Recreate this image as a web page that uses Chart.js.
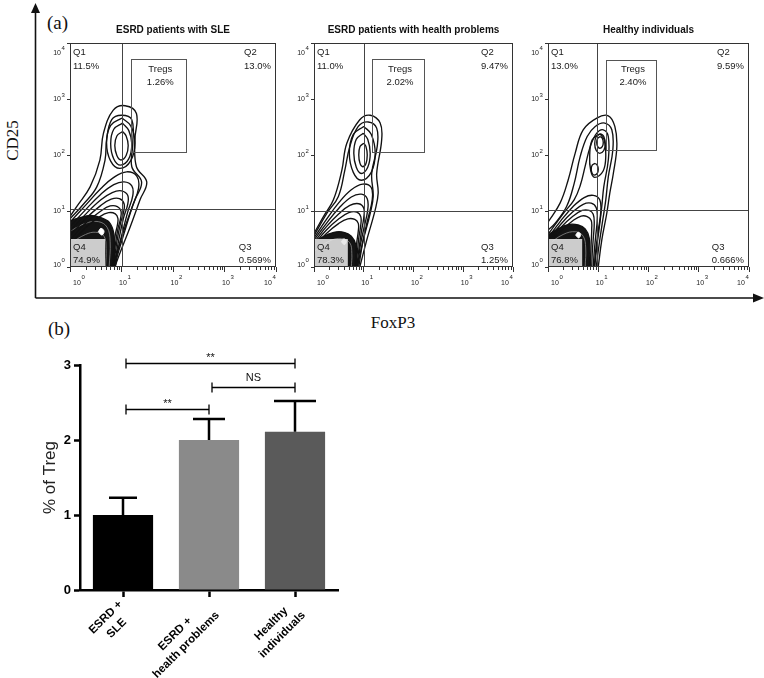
<!DOCTYPE html>
<html><head><meta charset="utf-8">
<script src="https://cdn.jsdelivr.net/npm/chart.js@4.4.1/dist/chart.umd.min.js"></script>
<style>
html,body{margin:0;padding:0;background:#fff}
body{width:764px;height:678px;position:relative;overflow:hidden}
canvas{position:absolute;display:block}
.lbl{position:absolute;font-family:"Liberation Serif","Times New Roman",serif;color:#111;white-space:nowrap;line-height:1}
</style></head><body>
<svg width="764" height="678" style="position:absolute;left:0;top:0">
 <path d="M35.5 298 V11 M35.5 298 H755" stroke="#111" stroke-width="1.6" fill="none"/>
 <polygon points="31,13 35.5,3 40,13" fill="#111"/>
 <polygon points="753,293.5 764,298 753,302.5" fill="#111"/>
</svg>
<div class="lbl" style="left:47px;top:13px;font-size:19px">(a)</div>
<div class="lbl" style="left:-10px;top:132px;width:44px;text-align:center;font-size:17px;transform:rotate(-90deg)">CD25</div>
<div class="lbl" style="left:358px;top:314px;width:70px;text-align:center;font-size:17px">FoxP3</div>
<div class="lbl" style="left:48px;top:319px;font-size:19px">(b)</div>

<canvas id="p1" width="246" height="269" style="left:38px;top:20px"></canvas>
<canvas id="p2" width="239" height="269" style="left:282px;top:20px"></canvas>
<canvas id="p3" width="241" height="269" style="left:516px;top:20px"></canvas>
<canvas id="bars" width="345" height="343" style="left:0;top:335px"></canvas>

<script>
// ---------- panel (a) data (log10 decades) ----------
const flowTicks = [0, 1, 2, 3, 4];
const panelTitles = ['ESRD patients with SLE', 'ESRD patients with health problems', 'Healthy individuals'];
const q4Box = [0.68, 0.5];

const sleQuadrants = ['11.5%', '13.0%', '0.569%', '74.9%'];
const sleTregs = '1.26%';
const sleSplit = [1.01, 1.03];
const sleGate = [1.18, 2.25, 2.05, 3.71];
const sleContours = [
  [[0,0.90],[0.13,1.08],[0.39,1.43],[0.58,1.91],[0.65,2.39],[0.84,2.80],[1.07,2.88],[1.29,2.74],[1.26,2.27],[1.29,1.79],[1.49,1.52],[1.36,1.20],[1.17,0.72],[0.97,0.25],[0.87,0]],
  [[0,0.86],[0.26,1.12],[0.52,1.43],[0.68,1.91],[0.71,2.27],[0.81,2.63],[1.00,2.71],[1.20,2.63],[1.22,2.21],[1.20,1.79],[1.39,1.52],[1.26,1.20],[1.07,0.72],[0.91,0.25],[0.85,0]],
  [[1.01,2.66],[1.18,2.52],[1.26,2.22],[1.18,1.90],[0.97,1.76],[0.79,1.89],[0.71,2.22],[0.79,2.53],[1.01,2.66]],
  [[1.02,2.57],[1.14,2.44],[1.20,2.20],[1.14,1.93],[0.98,1.82],[0.85,1.93],[0.79,2.20],[0.85,2.46],[1.02,2.57]],
  [[1.02,2.42],[1.09,2.34],[1.13,2.17],[1.09,1.99],[0.99,1.91],[0.91,1.99],[0.87,2.17],[0.91,2.34],[1.02,2.42]],
  [[0,0.80],[0.30,1.10],[0.60,1.40],[0.85,1.60],[1.10,1.70],[1.30,1.62],[1.33,1.40],[1.20,1.05],[1.05,0.60],[0.92,0.20],[0.88,0]],
  [[0,0.72],[0.30,1.02],[0.60,1.30],[0.85,1.47],[1.05,1.52],[1.20,1.45],[1.22,1.28],[1.12,0.98],[1.00,0.55],[0.90,0.18],[0.86,0]],
  [[0,0.64],[0.30,0.94],[0.60,1.20],[0.82,1.33],[1.00,1.36],[1.12,1.28],[1.12,1.12],[1.04,0.88],[0.95,0.50],[0.88,0.15],[0.84,0]],
  [[0,0.56],[0.30,0.86],[0.60,1.10],[0.80,1.21],[0.96,1.22],[1.05,1.13],[1.04,0.98],[0.98,0.78],[0.91,0.45],[0.86,0.13],[0.83,0]],
  [[0,0.48],[0.30,0.78],[0.60,1.00],[0.78,1.09],[0.92,1.08],[0.99,1.00],[0.98,0.86],[0.93,0.68],[0.88,0.40],[0.84,0.12],[0.82,0]],
  [[0,0.40],[0.30,0.70],[0.58,0.90],[0.75,0.97],[0.88,0.95],[0.93,0.87],[0.92,0.75],[0.88,0.58],[0.85,0.35],[0.82,0.10],[0.80,0]]
];
const sleCore = [[0,0],[0,0.80],[0.2,0.88],[0.4,0.92],[0.6,0.88],[0.76,0.80],[0.85,0.60],[0.86,0.30],[0.83,0],[0,0]];
const sleCoreLines = [
  [[0,0.64],[0.3,0.78],[0.55,0.81],[0.72,0.71],[0.78,0.45],[0.76,0]],
  [[0,0.42],[0.3,0.58],[0.5,0.62],[0.66,0.55],[0.70,0.33],[0.69,0]]
];
const sleSpot = [[0.55,0.63],[0.60,0.69],[0.66,0.64],[0.62,0.57],[0.55,0.63]];

const hpQuadrants = ['11.0%', '9.47%', '1.25%', '78.3%'];
const hpTregs = '2.02%';
const hpSplit = [1.0, 1.0];
const hpGate = [1.17, 2.21, 2.05, 3.71];
const hpContours = [
  [[0,0.60],[0.19,0.90],[0.39,1.20],[0.56,1.73],[0.66,2.21],[0.92,2.63],[1.13,2.71],[1.33,2.57],[1.36,2.27],[1.26,1.67],[1.29,1.32],[1.23,1.02],[1.06,0.48],[0.92,0]],
  [[0,0.56],[0.26,0.96],[0.49,1.26],[0.62,1.73],[0.72,2.15],[0.89,2.51],[1.09,2.59],[1.26,2.48],[1.27,2.15],[1.16,1.67],[1.19,1.26],[1.13,0.96],[0.99,0.48],[0.87,0]],
  [[1.00,2.51],[1.15,2.37],[1.23,2.03],[1.15,1.69],[0.95,1.55],[0.79,1.69],[0.71,2.03],[0.79,2.37],[1.00,2.51]],
  [[0.99,2.39],[1.08,2.28],[1.13,2.03],[1.08,1.78],[0.95,1.67],[0.85,1.78],[0.80,2.03],[0.85,2.28],[0.99,2.39]],
  [[1.00,2.21],[1.045,2.15],[1.07,2.00],[1.045,1.85],[0.98,1.79],[0.925,1.85],[0.90,2.00],[0.925,2.15],[1.00,2.21]],
  [[0,0.52],[0.25,0.85],[0.50,1.15],[0.75,1.38],[0.98,1.48],[1.15,1.42],[1.17,1.20],[1.08,0.85],[0.98,0.45],[0.90,0]],
  [[0,0.48],[0.25,0.78],[0.50,1.05],[0.75,1.25],[0.95,1.30],[1.07,1.22],[1.08,1.02],[1.01,0.72],[0.93,0.38],[0.88,0]],
  [[0,0.44],[0.25,0.72],[0.50,0.95],[0.72,1.10],[0.90,1.13],[1.00,1.05],[1.00,0.88],[0.95,0.62],[0.90,0.30],[0.86,0]],
  [[0,0.40],[0.25,0.66],[0.50,0.86],[0.70,0.97],[0.86,0.98],[0.94,0.90],[0.94,0.75],[0.90,0.52],[0.87,0.25],[0.84,0]],
  [[0,0.36],[0.25,0.60],[0.50,0.78],[0.68,0.86],[0.82,0.85],[0.89,0.78],[0.89,0.64],[0.86,0.44],[0.84,0.20],[0.82,0]]
];
const hpCore = [[0,0],[0,0.42],[0.2,0.55],[0.4,0.62],[0.6,0.62],[0.75,0.55],[0.84,0.40],[0.85,0.20],[0.83,0],[0,0]];
const hpCoreLines = [
  [[0,0.28],[0.3,0.46],[0.55,0.51],[0.72,0.43],[0.76,0.24],[0.75,0]]
];
const hpSpot = [[0.55,0.45],[0.60,0.50],[0.65,0.46],[0.61,0.40],[0.55,0.45]];

const hiQuadrants = ['13.0%', '9.59%', '0.666%', '76.8%'];
const hiTregs = '2.40%';
const hiSplit = [0.975, 1.02];
const hiGate = [1.15, 2.15, 2.09, 3.70];
const hiContours = [
  [[0,0.80],[0.24,1.14],[0.40,1.55],[0.54,2.03],[0.70,2.45],[0.97,2.66],[1.20,2.70],[1.33,2.51],[1.37,2.15],[1.30,1.67],[1.23,1.32],[1.17,0.96],[1.07,0.48],[1.00,0]],
  [[0,0.66],[0.14,0.78],[0.37,1.08],[0.52,1.49],[0.64,1.97],[0.78,2.33],[0.94,2.51],[1.13,2.57],[1.27,2.45],[1.29,2.09],[1.20,1.61],[1.15,1.20],[1.09,0.84],[1.02,0.42],[0.96,0]],
  [[0,0.58],[0.30,0.95],[0.52,1.20],[0.64,1.45],[0.74,1.80],[0.84,2.15],[0.97,2.39],[1.10,2.45],[1.20,2.33],[1.20,1.91],[1.11,1.43],[1.07,1.08],[1.02,0.70],[0.97,0.35],[0.93,0]],
  [[1.03,2.38],[1.12,2.27],[1.15,2.00],[1.10,1.72],[0.93,1.60],[0.85,1.72],[0.83,2.00],[0.88,2.27],[1.03,2.38]],
  [[1.05,2.38],[1.11,2.33],[1.14,2.20],[1.11,2.08],[1.03,2.03],[0.96,2.08],[0.93,2.20],[0.96,2.33],[1.05,2.38]],
  [[1.04,2.33],[1.08,2.30],[1.10,2.225],[1.08,2.15],[1.03,2.12],[0.99,2.15],[0.97,2.225],[0.99,2.30],[1.04,2.33]],
  [[0.94,1.85],[0.98,1.82],[1.00,1.745],[0.98,1.67],[0.92,1.64],[0.88,1.67],[0.86,1.745],[0.88,1.82],[0.94,1.85]],
  [[0,0.52],[0.25,0.82],[0.50,1.08],[0.72,1.24],[0.90,1.28],[1.03,1.20],[1.05,0.98],[1.00,0.65],[0.95,0.30],[0.92,0]],
  [[0,0.47],[0.25,0.76],[0.50,0.99],[0.70,1.12],[0.86,1.14],[0.96,1.06],[0.98,0.86],[0.95,0.56],[0.92,0.27],[0.90,0]],
  [[0,0.42],[0.25,0.70],[0.50,0.91],[0.68,1.01],[0.82,1.01],[0.90,0.94],[0.92,0.77],[0.90,0.50],[0.88,0.24],[0.87,0]],
  [[0,0.38],[0.25,0.64],[0.50,0.83],[0.66,0.91],[0.78,0.90],[0.86,0.83],[0.87,0.68],[0.86,0.45],[0.85,0.22],[0.84,0]]
];
const hiCore = [[0,0],[0,0.55],[0.2,0.68],[0.42,0.76],[0.6,0.75],[0.74,0.68],[0.82,0.52],[0.83,0.25],[0.81,0],[0,0]];
const hiCoreLines = [
  [[0,0.40],[0.3,0.58],[0.55,0.63],[0.70,0.55],[0.75,0.34],[0.74,0]]
];
const hiSpot = [[0.55,0.57],[0.60,0.62],[0.65,0.58],[0.61,0.52],[0.55,0.57]];

// ---------- panel (b) data ----------
const barCategories = [['ESRD +', 'SLE'], ['ESRD +', 'health problems'], ['Healthy', 'individuals']];
const tregMeans = [1.0, 2.0, 2.11];
const tregErrors = [0.23, 0.28, 0.41];
const barColors = ['#000000', '#8a8a8a', '#5a5a5a'];
const sigPairs = [[0, 2], [1, 2], [0, 1]];
const sigLevels = [3.03, 2.71, 2.41];
const sigLabels = ['**', 'NS', '**'];

// ---------- drawing ----------
const SANS = '"Liberation Sans", Arial, Helvetica, sans-serif';
const toPts = arr => arr.map(p => ({x: p[0], y: p[1]}));

function flowChart(id, title, quads, tregs, split, gate, contours, core, coreLines, spot) {
  const datasets = [];
  contours.forEach(c => datasets.push({data: toPts(c), showLine: true, borderColor: '#111', borderWidth: 1.35,
    pointRadius: 0, tension: 0.4, fill: false, order: 5}));
  datasets.push({data: toPts(core), showLine: true, borderColor: '#111', borderWidth: 1.3, backgroundColor: '#141414',
    pointRadius: 0, tension: 0.3, fill: 'shape', order: 10});
  coreLines.forEach(c => datasets.push({data: toPts(c), showLine: true, borderColor: '#8a8a8a', borderWidth: 0.8,
    pointRadius: 0, tension: 0.4, fill: false, order: 8}));
  datasets.push({data: toPts(spot), showLine: true, borderColor: '#fff', borderWidth: 1, backgroundColor: '#fff',
    pointRadius: 0, tension: 0.4, fill: 'shape', order: 0});

  const deco = {
    id: 'deco',
    afterDatasetsDraw(chart) {
      const {ctx, chartArea: a, scales: {x: xs, y: ys}} = chart;
      const X = v => xs.getPixelForValue(v), Y = v => ys.getPixelForValue(v);
      const r = v => Math.round(v) + 0.5;
      ctx.save();
      // Q4 label box
      ctx.fillStyle = 'rgba(230,230,230,0.88)';
      ctx.fillRect(X(0), Y(q4Box[1]), X(q4Box[0]) - X(0), Y(0) - Y(q4Box[1]));
      // quadrant lines + gate
      ctx.strokeStyle = '#444'; ctx.lineWidth = 1;
      ctx.beginPath();
      ctx.moveTo(r(X(split[0])), a.top); ctx.lineTo(r(X(split[0])), a.bottom);
      ctx.moveTo(a.left, r(Y(split[1]))); ctx.lineTo(a.right, r(Y(split[1])));
      ctx.stroke();
      ctx.strokeStyle = '#555';
      ctx.strokeRect(r(X(gate[0])), r(Y(gate[3])), Math.round(X(gate[1]) - X(gate[0])), Math.round(Y(gate[2]) - Y(gate[3])));
      // frame
      ctx.strokeStyle = '#333';
      ctx.strokeRect(r(a.left), r(a.top), Math.round(a.width) - 1, Math.round(a.height) - 1);
      // minor x ticks
      ctx.beginPath();
      for (let n = 0; n < 4; n++) for (let k = 2; k <= 9; k++) {
        const px = r(X(n + Math.log10(k)));
        ctx.moveTo(px, a.bottom); ctx.lineTo(px, a.bottom + 3);
      }
      ctx.stroke();
      // tick labels
      ctx.fillStyle = '#222'; ctx.textBaseline = 'middle';
      flowTicks.forEach(n => {
        const cx = Math.min(Math.max(X(n) + 1.5, a.left + 7), a.right - 8);
        ctx.font = '7px ' + SANS; ctx.textAlign = 'center';
        ctx.fillText('10', cx, a.bottom + 16);
        ctx.font = '6px ' + SANS; ctx.textAlign = 'left';
        ctx.fillText(String(n), cx + 4.5, a.bottom + 10.5);
        const cy = Math.max(Math.min(Y(n) + 0.5, a.bottom - 2), a.top + 10);
        ctx.font = '7px ' + SANS; ctx.textAlign = 'right';
        ctx.fillText('10', a.left - 9, cy);
        ctx.font = '6px ' + SANS; ctx.textAlign = 'left';
        ctx.fillText(String(n), a.left - 8.5, cy - 4.5);
      });
      // quadrant texts
      ctx.fillStyle = '#1a1a1a'; ctx.font = '9.5px ' + SANS; ctx.textAlign = 'left';
      ctx.fillText('Q1', a.left + 3, a.top + 9);
      ctx.fillText(quads[0], a.left + 3, a.top + 23);
      const w2 = ctx.measureText(quads[1]).width;
      ctx.textAlign = 'right'; ctx.fillText(quads[1], a.right - 5, a.top + 23);
      ctx.textAlign = 'left'; ctx.fillText('Q2', a.right - 5 - w2, a.top + 9);
      const w3 = ctx.measureText(quads[2]).width;
      ctx.textAlign = 'right'; ctx.fillText(quads[2], a.right - 5, a.bottom - 6.5);
      ctx.textAlign = 'left'; ctx.fillText('Q3', a.right - 5 - w3, a.bottom - 20);
      ctx.fillText('Q4', a.left + 3, a.bottom - 20);
      ctx.fillText(quads[3], a.left + 3, a.bottom - 6.5);
      const gx = (X(gate[0]) + X(gate[1])) / 2 + 2, gy = Y(gate[3]);
      ctx.textAlign = 'center';
      ctx.fillText('Tregs', gx, gy + 10);
      ctx.fillText(tregs, gx, gy + 23);
      // panel title
      ctx.font = 'bold 10px ' + SANS; ctx.fillStyle = '#111';
      ctx.fillText(title, (a.left + a.right) / 2, a.top - 13);
      ctx.restore();
    }
  };

  new Chart(document.getElementById(id), {
    type: 'scatter',
    data: {datasets},
    options: {
      responsive: false, animation: false, events: [], devicePixelRatio: 1,
      layout: {padding: {top: 23, right: 8, left: 0, bottom: 0}},
      plugins: {legend: {display: false}, tooltip: {enabled: false}},
      scales: {
        x: {type: 'linear', min: 0, max: 4,
          ticks: {display: false, stepSize: 1},
          grid: {drawOnChartArea: false, drawTicks: true, tickLength: 5, tickColor: '#333', tickWidth: 1},
          border: {display: false},
          afterFit(s) { s.height = 22; }},
        y: {type: 'linear', min: 0, max: 4,
          ticks: {display: false, stepSize: 1},
          grid: {drawOnChartArea: false, drawTicks: true, tickLength: 3, tickColor: '#333', tickWidth: 1},
          border: {display: false},
          afterFit(s) { s.width = 32; }}
      }
    },
    plugins: [deco]
  });
}

flowChart('p1', panelTitles[0], sleQuadrants, sleTregs, sleSplit, sleGate, sleContours, sleCore, sleCoreLines, sleSpot);
flowChart('p2', panelTitles[1], hpQuadrants, hpTregs, hpSplit, hpGate, hpContours, hpCore, hpCoreLines, hpSpot);
flowChart('p3', panelTitles[2], hiQuadrants, hiTregs, hiSplit, hiGate, hiContours, hiCore, hiCoreLines, hiSpot);

// ---------- bar chart ----------
const capWidths = [28, 32, 42];
const barDeco = {
  id: 'barDeco',
  afterDraw(chart) {
    const {ctx, scales: {x: xs, y: ys}} = chart;
    const meta = chart.getDatasetMeta(0);
    ctx.save();
    // error bars (upper only)
    ctx.strokeStyle = '#000'; ctx.lineWidth = 2.5; ctx.lineCap = 'butt';
    meta.data.forEach((el, i) => {
      const yTop = ys.getPixelForValue(tregMeans[i] + tregErrors[i]);
      ctx.beginPath();
      ctx.moveTo(el.x, el.y); ctx.lineTo(el.x, yTop);
      ctx.moveTo(el.x - capWidths[i] / 2, yTop); ctx.lineTo(el.x + capWidths[i] / 2, yTop);
      ctx.stroke();
    });
    // significance brackets
    ctx.lineWidth = 1.3; ctx.fillStyle = '#111';
    ctx.font = '11px ' + SANS; ctx.textAlign = 'center'; ctx.textBaseline = 'alphabetic';
    sigPairs.forEach((p, i) => {
      const x1 = xs.getPixelForValue(p[0]) + 3, x2 = xs.getPixelForValue(p[1]);
      const y = Math.round(ys.getPixelForValue(sigLevels[i])) + 0.5;
      ctx.beginPath();
      ctx.moveTo(x1, y); ctx.lineTo(x2, y);
      ctx.moveTo(x1, y - 5); ctx.lineTo(x1, y + 5);
      ctx.moveTo(x2, y - 5); ctx.lineTo(x2, y + 5);
      ctx.stroke();
      ctx.fillText(sigLabels[i], (x1 + x2) / 2, sigLabels[i] === 'NS' ? y - 7 : y - 3);
    });
    // rotated category labels (centred lines)
    ctx.font = 'bold 11.5px ' + SANS; ctx.fillStyle = '#000';
    ctx.textAlign = 'center'; ctx.textBaseline = 'middle';
    const y0 = ys.getPixelForValue(0);
    barCategories.forEach((lines, i) => {
      const cx = xs.getPixelForValue(i);
      const maxW = Math.max(...lines.map(t => ctx.measureText(t).width));
      ctx.save();
      ctx.translate(cx + 3, y0 + 18);
      ctx.rotate(-Math.PI / 4);
      lines.forEach((t, j) => ctx.fillText(t, -maxW / 2, (j - (lines.length - 1) / 2) * 15.5));
      ctx.restore();
    });
    ctx.restore();
  }
};

new Chart(document.getElementById('bars'), {
  type: 'bar',
  data: {
    labels: barCategories.map(c => c.join(' ')),
    datasets: [{data: tregMeans, backgroundColor: barColors, borderWidth: 0, barPercentage: 0.70, categoryPercentage: 1}]
  },
  options: {
    responsive: false, animation: false, events: [], devicePixelRatio: 1,
    layout: {padding: {left: 36, top: 30, right: 7, bottom: 0}},
    plugins: {legend: {display: false}, tooltip: {enabled: false}},
    scales: {
      x: {offset: true,
        grid: {display: true, drawOnChartArea: false, offset: false, tickLength: 7, tickWidth: 2.5, tickColor: '#000'},
        border: {display: true, width: 2.5, color: '#000'},
        ticks: {display: false},
        afterFit(s) { s.height = 88; }},
      y: {min: 0, max: 3,
        ticks: {stepSize: 1, font: {family: SANS, size: 13, weight: 'bold'}, color: '#000', padding: 3},
        grid: {drawOnChartArea: false, tickLength: 6, tickWidth: 2.5, tickColor: '#000'},
        border: {width: 2.5, color: '#000'},
        title: {display: true, text: '% of Treg', font: {family: SANS, size: 17}, color: '#222', padding: {top: 4, bottom: 0}},
        afterFit(s) { s.width = 44; }}
    }
  },
  plugins: [barDeco]
});
</script>
</body></html>
